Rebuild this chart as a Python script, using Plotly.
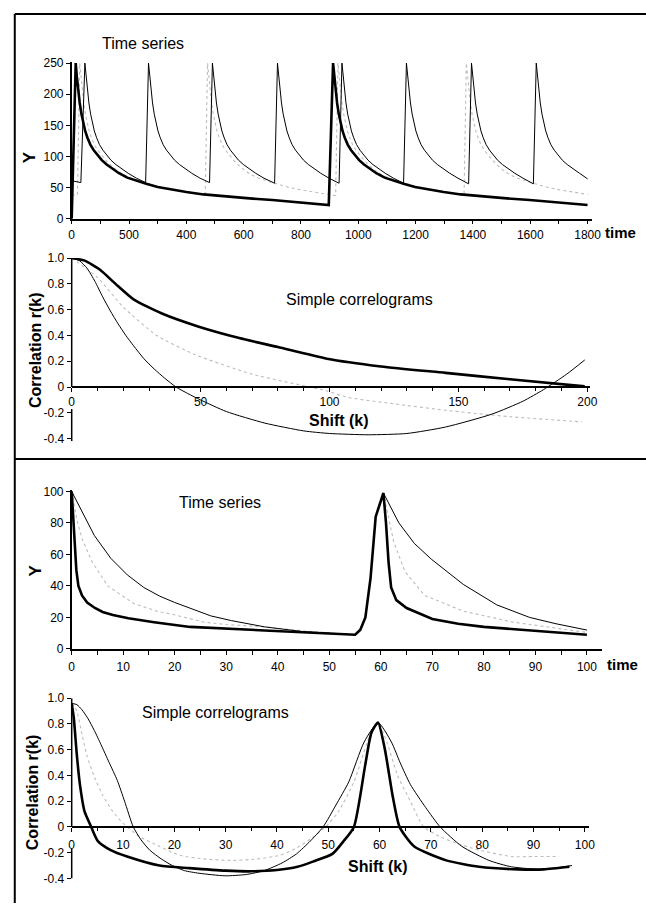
import plotly.graph_objects as go

# ---------------- Panel 1: time series (0..1800) ----------------
ts1_thick_t = [0, 14, 18, 23, 28, 34, 40, 47, 55, 65, 77, 90, 105, 122, 142, 165, 194, 225, 260, 300,
               345, 400, 460, 530, 610, 700, 800, 897,
               912, 916, 921, 926, 932, 938, 945, 953, 963, 975, 988, 1003, 1020, 1040, 1063, 1092,
               1123, 1158, 1198, 1243, 1298, 1358, 1428, 1508, 1598, 1698, 1800]
ts1_thick_y = [0, 250, 228, 205, 186, 168, 154, 141, 130, 119, 110, 102, 94, 87, 80, 73, 66, 61, 56, 51,
               47, 43, 39, 36, 33, 30, 26, 22,
               250, 228, 205, 186, 168, 154, 141, 130, 119, 110, 102, 94, 87, 80, 73, 66,
               61, 56, 51, 47, 43, 39, 36, 33, 30, 26, 22]

ts1_thin_t = [0, 32,
              46, 50, 55, 60, 66, 72, 79, 87, 97, 109, 122, 137, 154, 174, 197, 226, 258,
              268, 272, 277, 282, 288, 294, 301, 309, 319, 331, 344, 359, 376, 396, 419, 448, 481,
              491, 495, 500, 505, 511, 517, 524, 532, 542, 554, 567, 582, 599, 619, 642, 671, 708,
              718, 722, 727, 732, 738, 744, 751, 759, 769, 781, 794, 809, 826, 846, 869, 898, 933,
              943, 947, 952, 957, 963, 969, 976, 984, 994, 1006, 1019, 1034, 1051, 1071, 1094, 1123, 1158,
              1168, 1172, 1177, 1182, 1188, 1194, 1201, 1209, 1219, 1231, 1244, 1259, 1276, 1296, 1319, 1348, 1385,
              1395, 1399, 1404, 1409, 1415, 1421, 1428, 1436, 1446, 1458, 1471, 1486, 1503, 1523, 1546, 1575, 1611,
              1621, 1625, 1630, 1635, 1641, 1647, 1654, 1662, 1672, 1684, 1697, 1712, 1729, 1749, 1772, 1800]
ts1_thin_y = [61, 58,
              250, 228, 205, 186, 168, 154, 141, 130, 119, 110, 102, 94, 87, 80, 73, 65, 58,
              250, 228, 205, 186, 168, 154, 141, 130, 119, 110, 102, 94, 87, 80, 73, 65, 58,
              250, 228, 205, 186, 168, 154, 141, 130, 119, 110, 102, 94, 87, 80, 73, 65, 57,
              250, 228, 205, 186, 168, 154, 141, 130, 119, 110, 102, 94, 87, 80, 73, 65, 57,
              250, 228, 205, 186, 168, 154, 141, 130, 119, 110, 102, 94, 87, 80, 73, 65, 57,
              250, 228, 205, 186, 168, 154, 141, 130, 119, 110, 102, 94, 87, 80, 73, 65, 56,
              250, 228, 205, 186, 168, 154, 141, 130, 119, 110, 102, 94, 87, 80, 73, 65, 56,
              250, 228, 205, 186, 168, 154, 141, 130, 119, 110, 102, 94, 87, 80, 73, 64]

ts1_gray_t = [0, 20,
              28, 32, 37, 42, 48, 54, 61, 69, 79, 91, 104, 119, 136, 156, 179, 208, 239, 274, 314, 359, 414, 466,
              474, 478, 483, 488, 494, 500, 507, 515, 525, 537, 550, 565, 582, 602, 625, 654, 685, 720, 760, 805, 860, 921,
              929, 933, 938, 943, 949, 955, 962, 970, 980, 992, 1005, 1020, 1037, 1057, 1080, 1109, 1140, 1175, 1215, 1260, 1315, 1369,
              1377, 1381, 1386, 1391, 1397, 1403, 1410, 1418, 1428, 1440, 1453, 1468, 1485, 1505, 1528, 1557, 1588, 1623, 1663, 1708, 1763, 1800]
ts1_gray_y = [38, 38,
              250, 228, 205, 186, 168, 154, 141, 130, 119, 110, 102, 94, 86, 78, 71, 65, 60, 55, 50, 46, 42, 38,
              250, 228, 205, 186, 168, 154, 141, 130, 119, 110, 102, 94, 86, 78, 71, 65, 60, 55, 50, 46, 42, 37,
              250, 228, 205, 186, 168, 154, 141, 130, 119, 110, 102, 94, 86, 78, 71, 65, 60, 55, 50, 46, 42, 37,
              250, 228, 205, 186, 168, 154, 141, 130, 119, 110, 102, 94, 86, 78, 71, 65, 60, 55, 50, 46, 42, 39]

x1_tickvals = [0, 200, 400, 600, 800, 1000, 1200, 1400, 1600, 1800]
x1_ticktext = ["0", "500", "400", "600", "800", "1000", "1200", "1400", "1600", "1800"]
y1_tickvals = [0, 50, 100, 150, 200, 250]

# ---------------- Panel 2: correlograms (0..200) ----------------
cg1_thick_k = [0, 5, 11, 17, 24, 35, 49, 65, 80, 99, 120, 145, 170, 199]
cg1_thick_r = [1.0, 0.98, 0.91, 0.80, 0.68, 0.57, 0.47, 0.38, 0.31, 0.22, 0.16, 0.11, 0.06, 0.005]

cg1_thin_k = [0, 3, 6, 9, 12, 15, 18, 21, 24, 28, 32, 36, 40.5, 45, 50, 60, 75, 90, 100, 115,
              130, 145, 163, 175, 183, 192, 199]
cg1_thin_r = [1.0, 0.98, 0.92, 0.82, 0.70, 0.59, 0.49, 0.40, 0.32, 0.22, 0.14, 0.07, 0.0, -0.05, -0.10,
              -0.19, -0.28, -0.34, -0.36, -0.37, -0.36, -0.31, -0.21, -0.11, -0.02, 0.10, 0.21]

cg1_gray_k = [0, 10, 20, 33, 48, 70, 99, 107, 125, 145, 170, 198]
cg1_gray_r = [1.0, 0.85, 0.62, 0.40, 0.25, 0.10, -0.03, -0.08, -0.13, -0.18, -0.23, -0.27]

x2_tickvals = [0, 50, 100, 150, 200]
r_tickvals = [-0.4, -0.2, 0, 0.2, 0.4, 0.6, 0.8, 1.0]
r_ticktext = ["-0.4", "-0.2", "0", "0.2", "0.4", "0.6", "0.8", "1.0"]

# ---------------- Panel 3: time series (0..100) ----------------
ts2_thick_t = [0, 0.5, 0.9, 1.3, 2, 3, 4.5, 6, 8, 11, 16, 23, 30, 40, 50, 55,
               56, 57, 58, 59, 60.5, 61, 61.5, 62, 63, 65, 70, 75, 80, 90, 100]
ts2_thick_y = [100, 72, 50, 40, 34, 29.5, 26, 23.5, 21.5, 19.5, 17, 14, 13, 11.5, 10, 9,
               12, 20, 45, 84, 99, 80, 55, 39, 31, 26, 19, 16, 14, 11.5, 9]

ts2_thin_t = [0, 2, 4.4, 7.6, 10.8, 14, 17.1, 20, 23, 27, 31, 37.5, 45, 50, 55,
              56, 57, 58, 59, 60.5, 63.5, 66.5, 69.8, 76, 82.5, 88.9, 94, 100]
ts2_thin_y = [100, 87, 72, 57.5, 47, 39, 33.5, 29.5, 26, 21, 18, 14, 11, 10, 9,
              12, 20, 45, 84, 99, 80, 67, 57, 41, 28, 20, 16, 12]

ts2_gray_t = [0, 1, 2, 4, 7, 12, 16.5, 19.6, 25.7, 30, 37.5, 45, 55,
              56, 57, 58, 59, 60.5, 62.5, 64.7, 68.5, 76, 85.7, 100]
ts2_gray_y = [100, 82, 70, 55, 40, 29, 24, 22, 17, 15.5, 14, 11.5, 9,
              12, 20, 45, 84, 99, 68, 49, 34, 24, 17, 10.5]

x3_tickvals = [0, 10, 20, 30, 40, 50, 60, 70, 80, 90, 100]
y3_tickvals = [0, 20, 40, 60, 80, 100]

# ---------------- Panel 4: correlograms (0..100) ----------------
cg2_thick_k = [0, 0.4, 1.0, 1.6, 2.5, 3.8, 5.1, 7.6, 10.8, 17.1, 22.9, 30, 35, 40, 44, 47, 50.8,
               53, 55, 57.2, 58.4, 59.7, 61, 62.6, 63.9, 66.7, 73, 79.4, 87, 92, 97]
cg2_thick_r = [0.96, 0.85, 0.56, 0.33, 0.12, 0.0, -0.11, -0.18, -0.23, -0.30, -0.32, -0.34, -0.345, -0.335,
               -0.31, -0.27, -0.21, -0.11, 0.0, 0.48, 0.73, 0.81, 0.61, 0.23, 0.0, -0.15, -0.26, -0.31,
               -0.33, -0.33, -0.31]

cg2_thin_k = [0, 1, 2, 3.2, 4.4, 5.7, 7.3, 8.9, 10.3, 12, 13.5, 15.2, 17.5, 19.6, 22, 24.8, 29.9,
              34, 37.5, 41, 43.8, 46.5, 49, 51.5, 54, 57, 59.7, 62.3, 64, 66, 69, 71.8, 76, 81.3,
              85.7, 92, 97.5]
cg2_thin_r = [0.96, 0.95, 0.91, 0.84, 0.75, 0.64, 0.50, 0.36, 0.20, 0.0, -0.10, -0.18, -0.25, -0.30,
              -0.34, -0.36, -0.38, -0.37, -0.34, -0.28, -0.21, -0.11, 0.0, 0.17, 0.35, 0.66, 0.81,
              0.66, 0.5, 0.33, 0.15, 0.0, -0.15, -0.26, -0.31, -0.33, -0.3]

cg2_gray_k = [0, 1, 2, 3, 4.5, 6, 8, 10, 13, 16, 21, 26, 31, 36, 40.6, 44, 47, 49.5, 52, 55, 58,
              59.7, 61.5, 63.5, 66, 68.6, 72, 76, 79.4, 85.7, 90, 95]
cg2_gray_r = [0.96, 0.9, 0.72, 0.55, 0.38, 0.25, 0.12, 0.03, -0.07, -0.13, -0.22, -0.25, -0.26, -0.25,
              -0.22, -0.16, -0.08, 0.0, 0.12, 0.35, 0.7, 0.81, 0.65, 0.4, 0.2, 0.0, -0.08, -0.14,
              -0.18, -0.23, -0.23, -0.23]

x4_tickvals = [0, 10, 20, 30, 40, 50, 60, 70, 80, 90, 100]

# ---------------- Figure ----------------
W, H = 646, 910
FONT = "Liberation Sans, Arial, Helvetica, sans-serif"

def px(x):
    return x / W

def py(y):
    return 1 - y / H

THICK = dict(color="black", width=2.6)
THIN = dict(color="black", width=1)
GRAY = dict(color="#bdbdbd", width=1.1, dash="dot")

fig = go.Figure()

def add(x, y, line, xa, ya, smooth=False):
    ln = dict(line)
    if smooth:
        ln.update(shape="spline", smoothing=0.6)
    fig.add_trace(go.Scatter(x=x, y=y, mode="lines", line=ln, xaxis=xa, yaxis=ya,
                             hoverinfo="skip", showlegend=False))

add(ts1_gray_t, ts1_gray_y, GRAY, "x", "y")
add(ts1_thin_t, ts1_thin_y, THIN, "x", "y")
add(ts1_thick_t, ts1_thick_y, THICK, "x", "y")

add(cg1_gray_k, cg1_gray_r, GRAY, "x2", "y2", True)
add(cg1_thin_k, cg1_thin_r, THIN, "x2", "y2", True)
add(cg1_thick_k, cg1_thick_r, THICK, "x2", "y2", True)

add(ts2_gray_t, ts2_gray_y, GRAY, "x3", "y3")
add(ts2_thin_t, ts2_thin_y, THIN, "x3", "y3")
add(ts2_thick_t, ts2_thick_y, THICK, "x3", "y3")

add(cg2_gray_k, cg2_gray_r, GRAY, "x4", "y4", True)
add(cg2_thin_k, cg2_thin_r, THIN, "x4", "y4", True)
add(cg2_thick_k, cg2_thick_r, THICK, "x4", "y4", True)

tickfont = dict(family=FONT, size=12, color="black")
axis_common = dict(showgrid=False, zeroline=False, showline=True, linecolor="black", linewidth=1.5,
                   ticks="outside", ticklen=4, tickwidth=1, tickcolor="black", tickfont=tickfont)

fig.update_layout(
    width=W, height=H, margin=dict(l=0, r=0, t=0, b=0),
    paper_bgcolor="white", plot_bgcolor="white", showlegend=False,
    font=dict(family=FONT, color="black"),
    xaxis=dict(axis_common, domain=[px(70), px(600)], range=[0, 1815], anchor="y",
               tickvals=x1_tickvals, ticktext=x1_ticktext,
               minor=dict(dtick=100, ticks="outside", ticklen=4, tickcolor="black")),
    yaxis=dict(axis_common, domain=[py(215), py(55.7)], range=[0, 252], anchor="x",
               tickvals=y1_tickvals),
    xaxis2=dict(axis_common, domain=[px(70), px(598)], range=[0, 201], anchor="free",
                position=py(386), tickvals=x2_tickvals,
                minor=dict(dtick=10, ticks="outside", ticklen=3, tickcolor="black")),
    yaxis2=dict(axis_common, showline=False, domain=[py(441), py(255)], range=[-0.42, 1.0],
                anchor="x2", tickvals=r_tickvals, ticktext=r_ticktext),
    xaxis3=dict(axis_common, domain=[px(70), px(610)], range=[0, 102.86], anchor="y3",
                tickvals=x3_tickvals, ticklabelstandoff=2,
                minor=dict(dtick=5, ticks="outside", ticklen=4, tickcolor="black")),
    yaxis3=dict(axis_common, domain=[py(652), py(490.4)], range=[0, 101], anchor="x3",
                tickvals=y3_tickvals),
    xaxis4=dict(axis_common, domain=[px(70), px(597)], range=[0, 100.8], anchor="free",
                position=py(833), tickvals=x4_tickvals, ticklabelstandoff=3,
                minor=dict(dtick=5, ticks="outside", ticklen=3, tickcolor="black")),
    yaxis4=dict(axis_common, showline=False, domain=[py(885), py(702)], range=[-0.4, 1.0],
                anchor="x4", tickvals=r_tickvals, ticktext=r_ticktext),
)

shapes = []
# page frame: rules run past the right edge of the page so no end joins are visible
for (x0, y0, x1, y1) in [(12, 7, 760, 7), (12, 7, 12, 910), (12, 459, 760, 459)]:
    shapes.append(dict(type="line", xref="paper", yref="paper", x0=px(x0), x1=px(x1),
                       y0=py(y0), y1=py(y1), line=dict(color="black", width=2)))
# broken y-axis lines of correlograms
for ya, segs in [("y2", [(1.0, 0.0), (-0.17, -0.42)]), ("y4", [(1.0, 0.0), (-0.17, -0.4)])]:
    for (a, b) in segs:
        shapes.append(dict(type="line", xref="paper", yref=ya, x0=px(70), x1=px(70),
                           y0=a, y1=b, line=dict(color="black", width=1.5)))
fig.update_layout(shapes=shapes)

def note(text, x, y, size=16, bold=False, angle=0, xanchor="center"):
    t = f"<b>{text}</b>" if bold else text
    fig.add_annotation(text=t, x=px(x), y=py(y), xref="paper", yref="paper", showarrow=False,
                       xanchor=xanchor, yanchor="middle", textangle=angle,
                       font=dict(family=FONT, size=size, color="black"))

note("Time series", 143, 37)
note("Y", 27, 152, size=17, bold=True, angle=-90)
note("time", 611, 229, size=15, bold=True, xanchor="left")
note("Simple correlograms", 363, 297)
note("Correlation r(k)", 33, 348, bold=True, angle=-90)
note("Shift (k)", 342, 420, bold=True)
note("Time series", 221, 503)
note("Y", 33, 572, size=17, bold=True, angle=-90)
note("time", 613, 668, size=15, bold=True, xanchor="left")
note("Simple correlograms", 217, 717)
note("Correlation r(k)", 30, 797, bold=True, angle=-90)
note("Shift (k)", 382, 873, bold=True)

fig.write_html("out.html", config={"displayModeBar": False},
               post_script=("document.documentElement.style.margin='0';"
                            "document.documentElement.style.overflow='hidden';"
                            "document.body.style.margin='0';document.body.style.padding='0';"
                            "document.body.style.overflow='hidden';"))
